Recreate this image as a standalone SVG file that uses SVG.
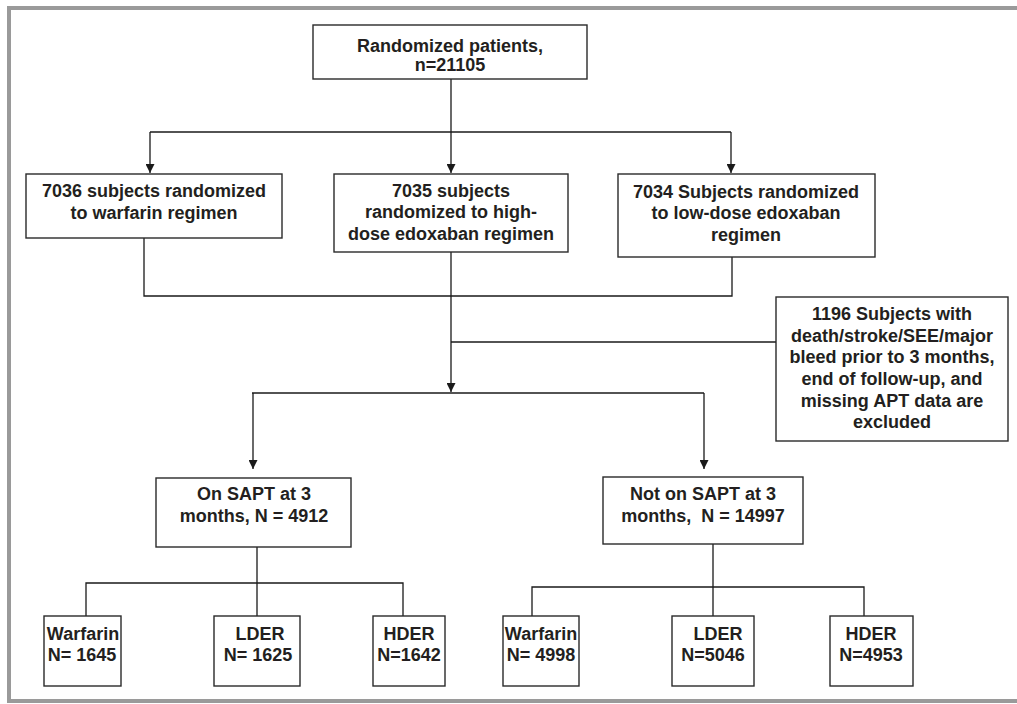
<svg xmlns="http://www.w3.org/2000/svg" width="1017" height="704" viewBox="0 0 1017 704">
<defs>
<marker id="arr" viewBox="0 0 10 10" refX="10" refY="5" markerWidth="9" markerHeight="9" markerUnits="userSpaceOnUse" orient="auto">
<path d="M0,0 L10,5 L0,10 z" fill="#1a1a1a"/>
</marker>
</defs>
<style>
.box{fill:#fff;stroke:#2a2a2a;stroke-width:1.4}
.t{font-family:"Liberation Sans",Arial,sans-serif;font-weight:bold;font-size:18px;fill:#231f20;text-anchor:middle}
.c{fill:none;stroke:#1a1a1a;stroke-width:1.3}
.frame{fill:none;stroke:#9a9a9a;stroke-width:4}
</style>
<rect width="1017" height="704" fill="#fff"/>
<path class="frame" d="M1020,8 H9 V701 H1020"/>
<g id="connectors">
<path class="c" d="M451,79 V132"/>
<path class="c" d="M150,132 H731"/>
<path class="c" d="M150,132 V173" marker-end="url(#arr)"/>
<path class="c" d="M451,132 V173" marker-end="url(#arr)"/>
<path class="c" d="M731,132 V173" marker-end="url(#arr)"/>
<path class="c" d="M144,238 V296 H732 V257"/>
<path class="c" d="M451,252 V392" marker-end="url(#arr)"/>
<path class="c" d="M451,342 H776"/>
<path class="c" d="M252,393 H704"/>
<path class="c" d="M253,393 V469" marker-end="url(#arr)"/>
<path class="c" d="M704,393 V469" marker-end="url(#arr)"/>
<path class="c" d="M257,547 V616 M86,616 V583 H403 V616"/>
<path class="c" d="M713,544 V616 M532,616 V587 H864 V616"/>
</g>
<g id="n-random">
<rect class="box" x="313" y="25" width="274" height="54"/>
<text class="t" x="450" y="52">Randomized patients,</text>
<text class="t" x="450" y="71">n=21105</text>
</g>
<g id="n-warfarin">
<rect class="box" x="26" y="174" width="256" height="64"/>
<text class="t" x="154" y="197">7036 subjects randomized</text>
<text class="t" x="154" y="219">to warfarin regimen</text>
</g>
<g id="n-high">
<rect class="box" x="334" y="174" width="234" height="78"/>
<text class="t" x="451" y="197">7035 subjects</text>
<text class="t" x="451" y="218">randomized to high-</text>
<text class="t" x="451" y="240">dose edoxaban regimen</text>
</g>
<g id="n-low">
<rect class="box" x="618" y="174" width="257" height="83"/>
<text class="t" x="746" y="198">7034 Subjects randomized</text>
<text class="t" x="746" y="219">to low-dose edoxaban</text>
<text class="t" x="746" y="241">regimen</text>
</g>
<g id="n-excluded">
<rect class="box" x="776" y="297" width="232" height="144"/>
<text class="t" x="892" y="320">1196 Subjects with</text>
<text class="t" x="892" y="342">death/stroke/SEE/major</text>
<text class="t" x="892" y="363">bleed prior to 3 months,</text>
<text class="t" x="892" y="385">end of follow-up, and</text>
<text class="t" x="892" y="407">missing APT data are</text>
<text class="t" x="892" y="428">excluded</text>
</g>
<g id="n-sapt">
<rect class="box" x="156" y="478" width="195" height="69"/>
<text class="t" x="254" y="500">On SAPT at 3</text>
<text class="t" x="254" y="522">months, N = 4912</text>
</g>
<g id="n-nosapt">
<rect class="box" x="603" y="477" width="200" height="67"/>
<text class="t" x="703" y="500">Not on SAPT at 3</text>
<text class="t" x="703" y="522" xml:space="preserve">months,  N = 14997</text>
</g>
<g id="n-w1">
<rect class="box" x="44" y="616" width="77" height="70"/>
<text class="t" x="83" y="640">Warfarin</text>
<text class="t" x="82" y="661">N= 1645</text>
</g>
<g id="n-l1">
<rect class="box" x="214" y="616" width="86" height="70"/>
<text class="t" x="260" y="640">LDER</text>
<text class="t" x="258" y="661">N= 1625</text>
</g>
<g id="n-h1">
<rect class="box" x="373" y="616" width="72" height="70"/>
<text class="t" x="409" y="640">HDER</text>
<text class="t" x="409" y="661">N=1642</text>
</g>
<g id="n-w2">
<rect class="box" x="503" y="616" width="76" height="70"/>
<text class="t" x="541" y="640">Warfarin</text>
<text class="t" x="541" y="661">N= 4998</text>
</g>
<g id="n-l2">
<rect class="box" x="672" y="616" width="82" height="70"/>
<text class="t" x="718" y="640">LDER</text>
<text class="t" x="713" y="661">N=5046</text>
</g>
<g id="n-h2">
<rect class="box" x="830" y="616" width="83" height="70"/>
<text class="t" x="871" y="640">HDER</text>
<text class="t" x="871" y="661">N=4953</text>
</g>
</svg>
